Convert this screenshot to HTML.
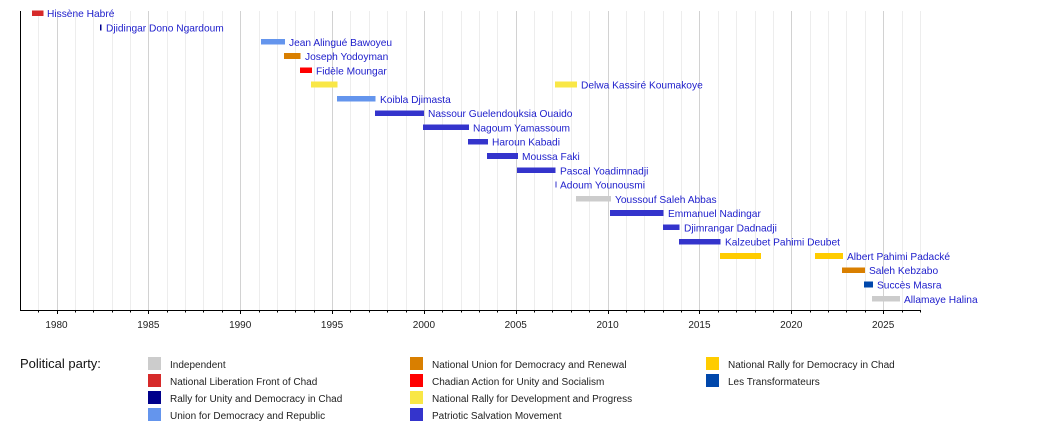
<!DOCTYPE html>
<html>
<head>
<meta charset="utf-8">
<style>
html,body{margin:0;padding:0;background:#fff;}
svg{display:block;}
text{font-family:"Liberation Sans",Arial,sans-serif;}
.lbl{font-size:10.2px;fill:#2020cc;}
.tk{font-size:10px;fill:#222;text-anchor:middle;}
.lg{font-size:10px;fill:#222;}
</style>
</head>
<body>
<svg width="1050" height="430" viewBox="0 0 1050 430" xmlns="http://www.w3.org/2000/svg">
<g id="grid" shape-rendering="crispEdges">
</g>
<g id="bars" shape-rendering="crispEdges">
</g>
<g id="labels"></g>
<!-- axes -->
<line x1="20.5" y1="11" x2="20.5" y2="311" stroke="#000" stroke-width="1" shape-rendering="crispEdges"/>
<line x1="20" y1="310.5" x2="921" y2="310.5" stroke="#000" stroke-width="1" shape-rendering="crispEdges"/>
<g id="ticks" shape-rendering="crispEdges"></g>

<!-- legend -->
<text x="20" y="368" style="font-size:13px;fill:#111;">Political party:</text>
<g shape-rendering="crispEdges">
<rect x="148" y="357" width="13" height="13" fill="#cccccc"/>
<rect x="148" y="374" width="13" height="13" fill="#d62a2a"/>
<rect x="148" y="391" width="13" height="13" fill="#00008b"/>
<rect x="148" y="408" width="13" height="13" fill="#6495ed"/>
<rect x="410" y="357" width="13" height="13" fill="#d97f00"/>
<rect x="410" y="374" width="13" height="13" fill="#ff0000"/>
<rect x="410" y="391" width="13" height="13" fill="#f9e746"/>
<rect x="410" y="408" width="13" height="13" fill="#3434cc"/>
<rect x="706" y="357" width="13" height="13" fill="#ffcc00"/>
<rect x="706" y="374" width="13" height="13" fill="#0047ab"/>
</g>
<text class="lg" x="170" y="368">Independent</text>
<text class="lg" x="170" y="385">National Liberation Front of Chad</text>
<text class="lg" x="170" y="402">Rally for Unity and Democracy in Chad</text>
<text class="lg" x="170" y="419">Union for Democracy and Republic</text>
<text class="lg" x="432" y="368">National Union for Democracy and Renewal</text>
<text class="lg" x="432" y="385">Chadian Action for Unity and Socialism</text>
<text class="lg" x="432" y="402">National Rally for Development and Progress</text>
<text class="lg" x="432" y="419">Patriotic Salvation Movement</text>
<text class="lg" x="728" y="368">National Rally for Democracy in Chad</text>
<text class="lg" x="728" y="385">Les Transformateurs</text>
</svg>
<script>
(function(){
var NS="http://www.w3.org/2000/svg";
function el(tag,attrs,parent,txt){var e=document.createElementNS(NS,tag);for(var k in attrs)e.setAttribute(k,attrs[k]);if(txt)e.textContent=txt;parent.appendChild(e);return e;}
function X(y){return 56.5+(y-1980)*18.37;}
var grid=document.getElementById('grid'),ticks=document.getElementById('ticks');
for(var y=1979;y<=2027;y++){
  var x=Math.round(X(y))+0.5;
  var major=(y%5===0);
  el('line',{x1:x,y1:11,x2:x,y2:310,stroke:major?'#d2d2d2':'#ededed','stroke-width':1},grid);
  el('line',{x1:x,y1:311,x2:x,y2:major?314:312.5,stroke:'#000','stroke-width':1},ticks);
  if(major) el('text',{x:X(y),y:328,'class':'tk'},document.querySelector('svg'),String(y));
}
var rows=[
 [[[32,43.3,'#d62a2a']],'Hissène Habré',47],
 [[[100,101.3,'#00008b']],'Djidingar Dono Ngardoum',106],
 [[[261,285,'#6495ed']],'Jean Alingué Bawoyeu',289],
 [[[284,300.7,'#d97f00']],'Joseph Yodoyman',305],
 [[[300,312,'#ff0000']],'Fidèle Moungar',316],
 [[[311,337.7,'#f9e746'],[555,577,'#f9e746']],'Delwa Kassiré Koumakoye',581],
 [[[337,375.3,'#6495ed']],'Koibla Djimasta',380],
 [[[375,424,'#3434cc']],'Nassour Guelendouksia Ouaido',428],
 [[[423,469,'#3434cc']],'Nagoum Yamassoum',473],
 [[[468,488,'#3434cc']],'Haroun Kabadi',492],
 [[[487,518,'#3434cc']],'Moussa Faki',522],
 [[[517,555.7,'#3434cc']],'Pascal Yoadimnadji',560],
 [[[555.3,556.3,'#3434cc']],'Adoum Younousmi',560],
 [[[576,611,'#cccccc']],'Youssouf Saleh Abbas',615],
 [[[610,663.7,'#3434cc']],'Emmanuel Nadingar',668],
 [[[663,679.7,'#3434cc']],'Djimrangar Dadnadji',684],
 [[[679,720.7,'#3434cc']],'Kalzeubet Pahimi Deubet',725],
 [[[720,761,'#ffcc00'],[815,843,'#ffcc00']],'Albert Pahimi Padacké',847],
 [[[842,865,'#d97f00']],'Saleh Kebzabo',869],
 [[[864,873,'#0047ab']],'Succès Masra',877],
 [[[872,900,'#cccccc']],'Allamaye Halina',904]
];
var bars=document.getElementById('bars'),labels=document.getElementById('labels');
rows.forEach(function(r,i){
  var top=10.3+14.28*i;
  r[0].forEach(function(b){
    el('rect',{x:b[0],y:top,width:Math.max(1,b[1]-b[0]),height:5.7,fill:b[2]},bars);
  });
  el('text',{x:r[2],y:top+6.9,'class':'lbl'},labels,r[1]);
});
})();
</script>
</body>
</html>
